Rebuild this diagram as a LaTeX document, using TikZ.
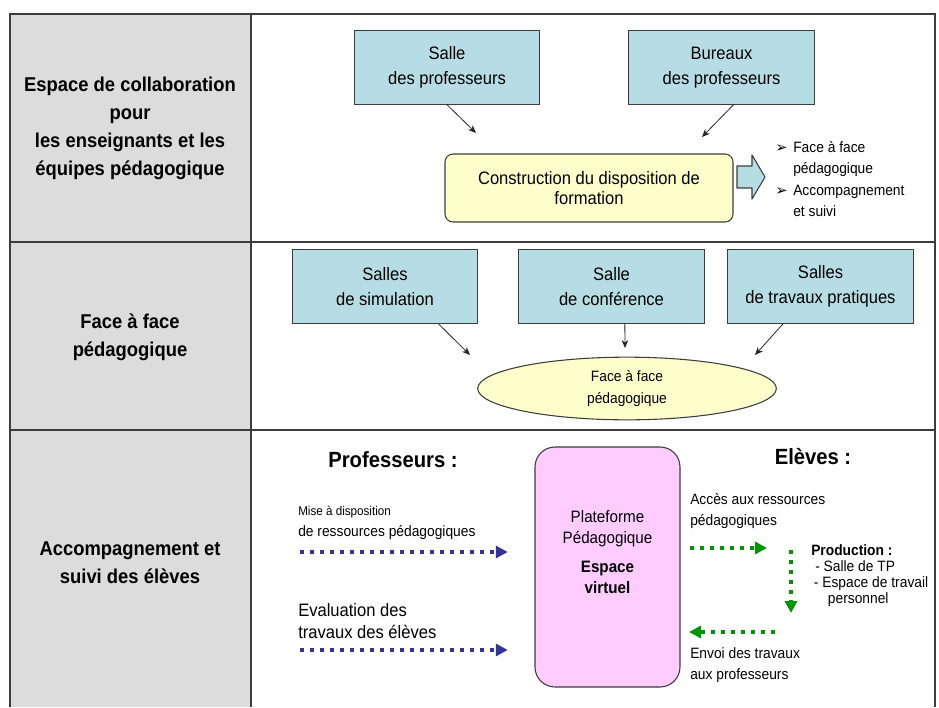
\documentclass[tikz,border=0pt]{standalone}
\usepackage{fontspec}
\setmainfont{Liberation Sans}[FakeStretch=0.92]
\newfontfamily\symfont{DejaVu Sans}
\usetikzlibrary{shapes.geometric,arrows.meta}

\definecolor{cellgray}{RGB}{220,220,220}
\definecolor{gridgray}{RGB}{60,60,60}
\definecolor{boxline}{RGB}{60,60,60}
\definecolor{roomblue}{RGB}{183,221,228}
\definecolor{noteyellow}{RGB}{255,255,204}
\definecolor{platpink}{RGB}{255,204,255}
\definecolor{profblue}{RGB}{51,51,153}
\definecolor{elevegreen}{RGB}{0,150,0}

\newcommand{\bulmark}{\makebox[13.5pt][l]{\symfont\fontsize{11}{11}\selectfont ➢}}
\newcommand{\bulgap}{\hspace*{13.5pt}}

\begin{document}
\begin{tikzpicture}[x=0.75pt,y=-0.75pt,
  cell/.style={line width=1.5pt,draw=gridgray},
  rowlabel/.style={align=center,font=\bfseries\fontsize{15}{21}\selectfont},
  room/.style={draw=boxline,line width=0.8pt,fill=roomblue,minimum width=139pt,
    minimum height=55pt,inner sep=0pt,align=center,font=\fontsize{13.5}{18.75}\selectfont},
  linkarrow/.style={draw=black!85,line width=0.6pt,-{Stealth[length=6pt,width=5pt]}},
  note/.style={align=left,inner sep=0pt,font=\fontsize{11.25}{15.75}\selectfont},
  heading/.style={font=\bfseries\fontsize{16.5}{20}\selectfont},
  profdots/.style={draw=profblue,line width=2.8pt,dash pattern=on 2.8pt off 4.7pt,
    -{Triangle[length=9pt,width=9pt]}},
  elevedots/.style={draw=elevegreen,line width=2.8pt,dash pattern=on 2.8pt off 4.7pt,
    -{Triangle[length=9pt,width=9pt]}}]

\useasboundingbox (0,0) rectangle (939,707);

% ---------- Table ----------
\fill[cellgray] (10,14) rectangle (251,707);
\draw[cell] (10,707) -- (10,14) -- (935,14) -- (935,707);
\draw[cell] (251,14) -- (251,707);
\draw[cell] (10,242) -- (935,242);
\draw[cell] (10,430) -- (935,430);

\node[rowlabel] (lab1) at (130,128) {Espace de collaboration\\pour\\les enseignants et les\\équipes pédagogique};
\node[rowlabel] (lab2) at (130,337) {Face à face\\pédagogique};
\node[rowlabel] (lab3) at (130,563) {Accompagnement et\\suivi des élèves};


% ---------- Collaboration ----------
\node[room] (salle) at (447,67.5) {Salle\\des professeurs};
\node[room] (bureaux) at (721.5,67.5) {Bureaux\\des professeurs};
\node[draw=boxline,line width=0.8pt,fill=noteyellow,rounded corners=6pt,
  minimum width=216pt,minimum height=51pt,inner sep=0pt,align=center,
  font=\fontsize{13.5}{15}\selectfont] (constr) at (589,188) {Construction du disposition de\\formation};

\coordinate (salletip) at (476,133);
\coordinate (bureauxtip) at (702,137);
\draw[linkarrow] (salle.south) -- (salletip);
\draw[linkarrow] ([xshift=9pt]bureaux.south) -- (bureauxtip);

\draw[fill=roomblue,draw=boxline,line width=0.8pt,line join=round]
  (737,166) -- (752,166) -- (752,155) -- (765,177) -- (752,199) -- (752,188) -- (737,188) -- cycle;

\node[note,anchor=west,font=\fontsize{11.25}{16}\selectfont] (suite) at (775,179)
  {\bulmark Face à face\\\bulgap pédagogique\\\bulmark Accompagnement\\\bulgap et suivi};


% ---------- Face a face ----------
\node[room] (simul) at (385,286.5) {Salles\\de simulation};
\node[room] (conf) at (611.5,286.5) {Salle\\de conférence};
\node[room] (tp) at (820.5,286.5) {Salles\\de travaux pratiques};
\node[ellipse,draw=boxline,line width=0.8pt,fill=noteyellow,minimum width=224pt,
  minimum height=47pt,inner sep=0pt,align=center,
  font=\fontsize{11.25}{17}\selectfont] (ff) at (627,388.5) {Face à face\\pédagogique};

\coordinate (simultip) at (470,355);
\coordinate (conftip) at (625,348);
\coordinate (tptip) at (755,355);
\draw[linkarrow] ([xshift=40pt]simul.south) -- (simultip);
\draw[linkarrow] ([xshift=10pt]conf.south) -- (conftip);
\draw[linkarrow] ([xshift=-28pt]tp.south) -- (tptip);


% ---------- Accompagnement ----------
\node[heading] (prof) at (393,460) {Professeurs :};
\node[heading] (eleves) at (813,457) {Elèves :};

\node[draw=boxline,line width=0.8pt,fill=platpink,rounded corners=15pt,
  minimum width=108.75pt,minimum height=180pt] (plat) at (607.5,567) {};
\node[align=center,font=\fontsize{12.4}{15.75}\selectfont] (platxt) at (607.5,552)
  {Plateforme\\Pédagogique\\[6pt]\textbf{Espace}\\\textbf{virtuel}};

\node[note,anchor=west] (mise) at (298,522.5)
  {{\fontsize{9.5}{15.75}\selectfont Mise à disposition}\\ de ressources pédagogiques};
\node[note,anchor=west,font=\fontsize{13.5}{16.5}\selectfont] (evalt) at (298,621)
  {Evaluation des\\travaux des élèves};
\node[note,anchor=west] (acces) at (690,511.5) {Accès aux ressources\\pédagogiques};
\node[note,anchor=west,font=\fontsize{11.25}{12}\selectfont] (prod) at (811,576)
  {\textbf{Production :}\\\hspace*{3pt}- Salle de TP\\\hspace*{2pt}- Espace de travail\\\hspace*{12.5pt}personnel};
\node[note,anchor=west] (envoi) at (690,665) {Envoi des travaux\\aux professeurs};

\coordinate (misestart) at (300,552);
\coordinate (evalstart) at (300,650);
\draw[profdots,shorten >=20pt] (misestart) -- (misestart -| plat.west);
\draw[profdots,shorten >=20pt] (evalstart) -- (evalstart -| plat.west);

\coordinate (accstart) at (690,548);
\coordinate (accend) at (767,548);
\coordinate (prodtop) at (791,550);
\coordinate (prodbot) at (791,613);
\coordinate (envstart) at (775,632);
\coordinate (envend) at (689,632);
\draw[elevedots] (accstart) -- (accend);
\draw[elevedots] (prodtop) -- (prodbot);
\draw[elevedots] (envstart) -- (envend);

\end{tikzpicture}
\end{document}
